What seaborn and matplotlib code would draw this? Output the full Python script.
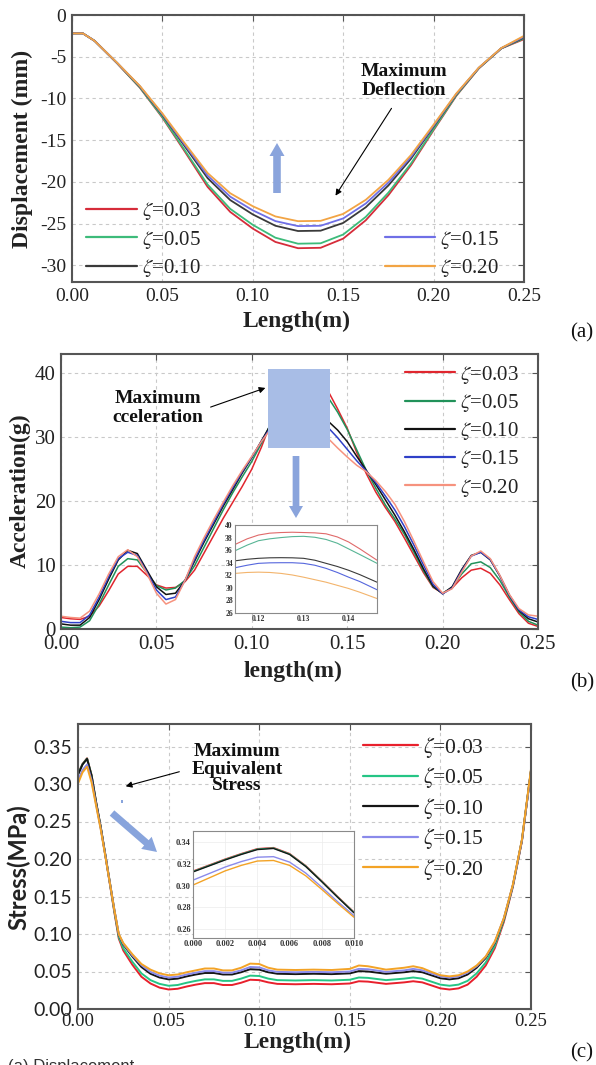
import numpy as np
import pandas as pd
import matplotlib
matplotlib.use("Agg")
import matplotlib.pyplot as plt
import seaborn as sns
from matplotlib.lines import Line2D
from matplotlib.patches import FancyArrow, Rectangle
from matplotlib.transforms import Affine2D

W, H = 596, 1065
zeta_labels = ["0.03", "0.05", "0.10", "0.15", "0.20"]

# ---------------- Panel (a): displacement ----------------
len_a = [0.0, 0.006, 0.0125, 0.025, 0.0375, 0.05, 0.0625, 0.075, 0.0875, 0.10, 0.1125,
         0.125, 0.1375, 0.15, 0.1625, 0.175, 0.1875, 0.20, 0.2125, 0.225, 0.2375, 0.25]
disp_003 = [-2.2, -2.2, -3.1, -5.8, -8.7, -12.3, -16.4, -20.6, -23.6, -25.6, -27.2,
            -27.95, -27.9, -26.8, -24.6, -21.6, -18.0, -13.8, -9.7, -6.4, -4.0, -2.9]
disp_005 = [-2.2, -2.2, -3.1, -5.79, -8.67, -12.22, -16.24, -20.32, -23.23, -25.15, -26.69,
            -27.41, -27.36, -26.31, -24.19, -21.29, -17.80, -13.69, -9.65, -6.39, -4.0, -2.8]
disp_010 = [-2.2, -2.2, -3.1, -5.76, -8.57, -11.98, -15.77, -19.55, -22.18, -23.90, -25.26,
            -25.89, -25.85, -24.92, -23.04, -20.43, -17.22, -13.38, -9.53, -6.35, -3.98, -2.7]
disp_015 = [-2.2, -2.2, -3.1, -5.75, -8.53, -11.89, -15.59, -19.25, -21.77, -23.41, -24.70,
            -25.30, -25.26, -24.38, -22.59, -20.09, -17.00, -13.26, -9.48, -6.33, -3.97, -2.6]
disp_020 = [-2.2, -2.2, -3.1, -5.74, -8.49, -11.80, -15.41, -18.94, -21.36, -22.92, -24.14,
            -24.71, -24.67, -23.84, -22.15, -19.76, -16.78, -13.14, -9.42, -6.31, -3.95, -2.5]

# ---------------- Panel (b): acceleration ----------------
len_b = [round(0.005 * i, 3) for i in range(51)]
acc_003 = [1.8, 1.6, 1.5, 2.0, 3.6, 6.0, 8.6, 9.8, 9.8, 8.4, 6.9, 6.4, 6.5, 7.4, 9.2, 11.9,
           14.6, 17.3, 19.8, 22.3, 25.0, 28.4, 32.3, 36.8, 38.4, 38.8, 38.8, 38.6, 37.2, 34.4,
           31.4, 27.6, 24.3, 21.4, 19.0, 16.8, 14.2, 11.5, 8.8, 6.5, 5.6, 6.4, 8.0, 9.2, 9.5,
           8.7, 6.9, 4.6, 2.4, 0.9, 0.4]
acc_005 = [0.3, 0.2, 0.3, 1.3, 3.9, 6.9, 9.8, 11.0, 10.8, 8.8, 6.8, 6.1, 6.4, 7.6, 9.9, 12.8,
           15.7, 18.6, 21.3, 23.8, 26.2, 29.0, 32.2, 35.8, 37.3, 37.9, 38.1, 37.7, 36.2, 33.9,
           31.2, 28.0, 24.8, 22.0, 19.4, 17.2, 14.8, 12.0, 9.1, 6.6, 5.6, 6.5, 8.6, 10.2, 10.5,
           9.6, 7.6, 5.0, 2.7, 1.2, 0.6]
acc_010 = [0.8, 0.6, 0.6, 1.8, 4.6, 7.8, 10.8, 12.3, 11.8, 9.2, 6.6, 5.4, 5.6, 7.6, 10.6, 13.6,
           16.4, 19.2, 21.8, 24.4, 26.8, 29.4, 32.0, 34.2, 34.6, 34.8, 34.6, 33.7, 32.5, 31.1,
           29.3, 27.0, 24.8, 22.6, 20.2, 17.8, 15.2, 12.4, 9.4, 6.7, 5.5, 6.6, 9.3, 11.5, 12.0,
           10.8, 8.3, 5.3, 2.9, 1.6, 1.1]
acc_015 = [1.2, 1.0, 1.0, 2.2, 5.0, 8.2, 11.0, 12.0, 11.5, 8.9, 6.1, 4.6, 5.0, 7.6, 10.9, 13.9,
           16.7, 19.5, 22.1, 24.6, 26.9, 29.3, 31.6, 33.1, 33.7, 34.0, 33.8, 32.9, 31.5, 29.9,
           28.1, 26.3, 24.7, 22.9, 20.8, 18.6, 16.0, 13.1, 10.0, 7.0, 5.5, 6.4, 9.1, 11.4, 12.0,
           10.9, 8.3, 5.3, 3.0, 1.9, 1.5]
acc_020 = [2.0, 1.8, 1.7, 2.8, 5.5, 8.6, 11.3, 12.4, 11.3, 8.7, 5.6, 3.9, 4.6, 7.6, 11.3, 14.3,
           17.1, 19.8, 22.4, 24.8, 27.0, 29.3, 31.3, 32.2, 32.4, 32.3, 31.7, 30.9, 29.8, 28.3,
           26.9, 25.6, 24.6, 23.2, 21.5, 19.5, 16.8, 13.7, 10.5, 7.4, 5.6, 6.3, 8.9, 11.4, 12.2,
           11.0, 8.4, 5.4, 3.2, 2.2, 2.0]

# inset of (b)
len_bi = [0.1148, 0.1175, 0.12, 0.1225, 0.125, 0.1275, 0.13, 0.1325, 0.135, 0.1375, 0.14, 0.1425, 0.1463]
acc_i_003 = [36.9, 37.8, 38.4, 38.7, 38.8, 38.85, 38.8, 38.75, 38.6, 38.1, 37.3, 36.2, 34.4]
acc_i_005 = [35.9, 36.8, 37.5, 37.8, 38.0, 38.15, 38.2, 38.05, 37.7, 37.1, 36.2, 35.3, 33.9]
acc_i_010 = [34.3, 34.55, 34.7, 34.78, 34.8, 34.78, 34.7, 34.4, 33.9, 33.4, 32.8, 32.1, 30.9]
acc_i_015 = [33.2, 33.6, 33.9, 33.98, 34.0, 34.0, 33.9, 33.6, 33.1, 32.45, 31.7, 31.0, 29.7]
acc_i_020 = [32.3, 32.45, 32.5, 32.45, 32.3, 32.05, 31.7, 31.3, 30.9, 30.4, 29.9, 29.3, 28.3]

# ---------------- Panel (c): stress ----------------
len_c = [0, 0.0025, 0.005, 0.0075, 0.01, 0.0125, 0.015, 0.0175, 0.02, 0.0225, 0.025, 0.03,
         0.035, 0.04, 0.045, 0.05, 0.055, 0.06, 0.065, 0.07, 0.075, 0.08, 0.085, 0.09, 0.095,
         0.10, 0.105, 0.11, 0.12, 0.13, 0.14, 0.15, 0.155, 0.16, 0.17, 0.18, 0.185, 0.19,
         0.195, 0.20, 0.205, 0.21, 0.215, 0.22, 0.225, 0.23, 0.235, 0.24, 0.245, 0.25]
str_003 = [0.3133, 0.3268, 0.3343, 0.3118, 0.2758, 0.2430, 0.2060, 0.1680, 0.1300, 0.0940,
           0.0780, 0.0590, 0.0430, 0.0340, 0.0285, 0.0260, 0.0270, 0.0300, 0.0325, 0.0345,
           0.0345, 0.0320, 0.0320, 0.0350, 0.0390, 0.0385, 0.0355, 0.0335, 0.0330, 0.0335,
           0.0330, 0.0340, 0.0370, 0.0365, 0.0335, 0.0355, 0.0370, 0.0355, 0.0315, 0.0275,
           0.0260, 0.0275, 0.0325, 0.0430, 0.0580, 0.0810, 0.1160, 0.1630, 0.2240, 0.3180]
str_005 = [0.3129, 0.3264, 0.3339, 0.3114, 0.2754, 0.2430, 0.2065, 0.1690, 0.1310, 0.0960,
           0.0810, 0.0630, 0.0475, 0.0385, 0.0335, 0.0310, 0.0320, 0.0350, 0.0375, 0.0395,
           0.0395, 0.0375, 0.0375, 0.0405, 0.0445, 0.0440, 0.0405, 0.0385, 0.0380, 0.0385,
           0.0380, 0.0390, 0.0420, 0.0415, 0.0385, 0.0405, 0.0420, 0.0405, 0.0365, 0.0325,
           0.0310, 0.0325, 0.0375, 0.0475, 0.0620, 0.0840, 0.1180, 0.1640, 0.2250, 0.3180]
str_010 = [0.3125, 0.3260, 0.3335, 0.3110, 0.2750, 0.2430, 0.2070, 0.1700, 0.1330, 0.0990,
           0.0860, 0.0700, 0.0560, 0.0470, 0.0420, 0.0395, 0.0405, 0.0435, 0.0460, 0.0480,
           0.0480, 0.0460, 0.0460, 0.0490, 0.0530, 0.0525, 0.0490, 0.0470, 0.0465, 0.0470,
           0.0465, 0.0475, 0.0505, 0.0500, 0.0470, 0.0490, 0.0505, 0.0490, 0.0450, 0.0410,
           0.0395, 0.0410, 0.0460, 0.0550, 0.0680, 0.0880, 0.1200, 0.1650, 0.2250, 0.3180]
str_015 = [0.3050, 0.3185, 0.3260, 0.3050, 0.2725, 0.2410, 0.2060, 0.1695, 0.1330, 0.0995,
           0.0870, 0.0715, 0.0585, 0.0495, 0.0445, 0.0420, 0.0430, 0.0460, 0.0485, 0.0505,
           0.0505, 0.0485, 0.0485, 0.0515, 0.0560, 0.0555, 0.0515, 0.0495, 0.0490, 0.0495,
           0.0490, 0.0500, 0.0535, 0.0530, 0.0495, 0.0515, 0.0535, 0.0515, 0.0475, 0.0435,
           0.0420, 0.0435, 0.0485, 0.0570, 0.0695, 0.0890, 0.1210, 0.1650, 0.2250, 0.3170]
str_020 = [0.3005, 0.3155, 0.3230, 0.3020, 0.2710, 0.2400, 0.2050, 0.1690, 0.1330, 0.1000,
           0.0880, 0.0730, 0.0600, 0.0525, 0.0475, 0.0450, 0.0460, 0.0490, 0.0515, 0.0540,
           0.0540, 0.0515, 0.0515, 0.0550, 0.0605, 0.0600, 0.0550, 0.0525, 0.0520, 0.0525,
           0.0520, 0.0535, 0.0580, 0.0570, 0.0525, 0.0550, 0.0570, 0.0545, 0.0495, 0.0450,
           0.0435, 0.0450, 0.0500, 0.0580, 0.0700, 0.0900, 0.1210, 0.1660, 0.2260, 0.3200]

# inset of (c)
len_ci = [0.0, 0.001, 0.002, 0.003, 0.004, 0.005, 0.006, 0.007, 0.008, 0.009, 0.010]
str_i_003 = [0.3133, 0.3188, 0.3243, 0.3293, 0.3338, 0.3348, 0.3293, 0.3183, 0.3043, 0.2898, 0.2758]
str_i_005 = [0.3129, 0.3184, 0.3239, 0.3289, 0.3334, 0.3344, 0.3289, 0.3179, 0.3039, 0.2894, 0.2754]
str_i_010 = [0.3125, 0.3180, 0.3235, 0.3285, 0.3330, 0.3340, 0.3285, 0.3175, 0.3035, 0.2890, 0.2750]
str_i_015 = [0.3050, 0.3110, 0.3170, 0.3220, 0.3260, 0.3265, 0.3215, 0.3115, 0.2985, 0.2850, 0.2725]
str_i_020 = [0.3005, 0.3070, 0.3135, 0.3185, 0.3225, 0.3230, 0.3185, 0.3090, 0.2965, 0.2835, 0.2710]

pal_a = dict(zip(zeta_labels, ["#d62c3a", "#3dbb7a", "#3a3a3a", "#6f6fe6", "#f2a444"]))
pal_b = dict(zip(zeta_labels, ["#e0262e", "#21925a", "#111111", "#2f40c8", "#f6927e"]))
pal_bi = dict(zip(zeta_labels, ["#e06a6a", "#58b595", "#3a3a3a", "#5566dd", "#f3b46c"]))
pal_c = dict(zip(zeta_labels, ["#e8202c", "#25c585", "#151515", "#8a8aea", "#f3a326"]))

sns.set_style("white")
plt.rcParams.update({
    "font.family": ["Liberation Serif", "DejaVu Serif"],
    "mathtext.fontset": "stix",
    "axes.unicode_minus": False,
})

fig = plt.figure(figsize=(W / 100, H / 100), dpi=100)
PX = Affine2D().scale(1.0 / W, -1.0 / H).translate(0, 1) + fig.transFigure


def rect(l, t, r, b):
    return [l / W, 1 - b / H, (r - l) / W, (b - t) / H]


def F(x, y):
    return (x / W, 1 - y / H)


def long_df(x, series):
    return pd.DataFrame({
        "x": np.tile(np.asarray(x, float), len(series)),
        "y": np.concatenate([np.asarray(s, float) for s in series]),
        "zeta": np.repeat(zeta_labels, len(x)),
    })


def draw(ax, x, series, pal, lw):
    sns.lineplot(data=long_df(x, series), x="x", y="y", hue="zeta", hue_order=zeta_labels,
                 palette=pal, estimator=None, sort=False, legend=False, lw=lw, ax=ax)
    for ln in ax.get_lines():
        ln.set_solid_joinstyle("round")
    ax.set_xlabel("")
    ax.set_ylabel("")


def style(ax, xt, yt, fmt_x, fmt_y, lab=14):
    for s in ax.spines.values():
        s.set_color("#555555")
        s.set_linewidth(1.5)
    ax.set_xticks(xt)
    ax.set_yticks(yt)
    ax.set_xticklabels([fmt_x.format(v) for v in xt])
    ax.set_yticklabels([fmt_y.format(v) for v in yt])
    ax.grid(True, color="#c9c9c9", lw=0.8, ls=(0, (3, 3)))
    ax.tick_params(direction="in", length=4, width=0.8, color="#555555", top=True, right=True,
                   labelsize=lab, labelcolor="#222222", pad=4)


def legend(ax, idx, anchor, pal, size, hl, ls):
    hs = [Line2D([], [], color=pal[zeta_labels[i]], lw=1.6) for i in idx]
    labs = [r"$\zeta$=" + zeta_labels[i] for i in idx]
    lg = ax.legend(hs, labs, loc="upper left", bbox_to_anchor=anchor, frameon=False,
                   borderpad=0, borderaxespad=0, handlelength=hl, handletextpad=0.25,
                   labelspacing=ls, prop={"family": "Liberation Serif", "size": size})
    for t in lg.get_texts():
        t.set_color("#222222")
    return lg


# ---------- (a) ----------
axa = fig.add_axes(rect(72, 15, 524, 282))
draw(axa, len_a, [disp_003, disp_005, disp_010, disp_015, disp_020], pal_a, 1.3)
axa.set_xlim(0, 0.25)
axa.set_ylim(-32, 0)
style(axa, [0, 0.05, 0.10, 0.15, 0.20, 0.25], [0, -5, -10, -15, -20, -25, -30], "{:.2f}", "{:g}")
lg1 = legend(axa, [0, 1, 2], (0.031, 0.306), pal_a, 15, 2.45, 0.3)
axa.add_artist(lg1)
legend(axa, [3, 4], (0.692, 0.200), pal_a, 15, 2.4, 0.3)

fig.text(*F(22, 149), "Displacement (mm)", rotation=90, ha="center", va="center",
         fontsize=17, fontweight="bold", color="#222222")
fig.text(*F(297, 321), "Length(m)", ha="center", va="center", fontsize=17,
         fontweight="bold", color="#222222")
fig.text(*F(582, 333), "(a)", ha="center", va="center", fontsize=15, color="#111111")
fig.text(*F(404, 81), "Maximum\nDeflection", ha="center", va="center", fontsize=14,
         fontweight="bold", linespacing=1.1, color="#111111")
axa.annotate("", xy=F(334, 198), xytext=F(393, 106), xycoords="figure fraction",
             textcoords="figure fraction",
             arrowprops=dict(arrowstyle="-|>", color="black", lw=0.8, mutation_scale=9))
fig.add_artist(FancyArrow(277, 193, 0, -50, width=7.6, head_width=15, head_length=13,
                          length_includes_head=True, color="#8aa4dc", lw=0, transform=PX))

# ---------- (b) ----------
axb = fig.add_axes(rect(61, 354, 538, 629))
draw(axb, len_b, [acc_003, acc_005, acc_010, acc_015, acc_020], pal_b, 1.1)
axb.set_xlim(0, 0.25)
axb.set_ylim(0, 43)
style(axb, [0, 0.05, 0.10, 0.15, 0.20, 0.25], [0, 10, 20, 30, 40], "{:.2f}", "{:g}", lab=15)
legend(axb, [0, 1, 2, 3, 4], (0.721, 0.965), pal_b, 15, 2.4, 0.3)

fig.text(*F(20, 491), "Acceleration(g)", rotation=90, ha="center", va="center",
         fontsize=17, fontweight="bold", color="#222222")
fig.text(*F(293, 671), "length(m)", ha="center", va="center", fontsize=17,
         fontweight="bold", color="#222222")
fig.text(*F(582, 683), "(b)", ha="center", va="center", fontsize=15, color="#111111")
fig.text(*F(158, 408), "Maximum\ncceleration", ha="center", va="center", fontsize=14,
         fontweight="bold", linespacing=1.1, color="#111111")
axb.annotate("", xy=F(268, 387), xytext=F(208, 408), xycoords="figure fraction",
             textcoords="figure fraction",
             arrowprops=dict(arrowstyle="-|>", color="black", lw=0.8, mutation_scale=9))
fig.add_artist(Rectangle((268, 369), 62, 79, color="#a8bde6", lw=0, transform=PX, zorder=5))
fig.add_artist(FancyArrow(296, 456, 0, 62, width=6.7, head_width=14, head_length=12,
                          length_includes_head=True, color="#8aa4dc", lw=0, transform=PX))

axbi = fig.add_axes(rect(235, 525, 377, 613), zorder=6)
axbi.set_facecolor("white")
draw(axbi, len_bi, [acc_i_003, acc_i_005, acc_i_010, acc_i_015, acc_i_020], pal_bi, 0.8)
axbi.set_xlim(0.1148, 0.1463)
axbi.set_ylim(26, 40)
axbi.set_xticks([0.12, 0.13, 0.14])
axbi.set_xticklabels(["0.12", "0.13", "0.14"])
axbi.set_yticks([26, 28, 30, 32, 34, 36, 38, 40])
axbi.set_yticklabels(["26", "28", "30", "32", "34", "36", "38", "40"])
axbi.tick_params(direction="in", length=2, width=0.5, labelsize=5.5, pad=1.5, colors="#333333")
for t in axbi.get_xticklabels() + axbi.get_yticklabels():
    t.set_fontweight("bold")
for s in axbi.spines.values():
    s.set_color("#8a8a8a")
    s.set_linewidth(0.8)

# ---------- (c) ----------
axc = fig.add_axes(rect(78, 724, 531, 1009))
draw(axc, len_c, [str_003, str_005, str_010, str_015, str_020], pal_c, 1.4)
axc.set_xlim(0, 0.25)
axc.set_ylim(0, 0.38)
style(axc, [0, 0.05, 0.10, 0.15, 0.20, 0.25],
      [0, 0.05, 0.10, 0.15, 0.20, 0.25, 0.30, 0.35], "{:.2f}", "{:.2f}", lab=13.5)
for t in axc.get_yticklabels():
    t.set_family("Lato")
    t.set_fontsize(14)
axc.tick_params(axis="x", pad=3)
legend(axc, [0, 1, 2, 3, 4], (0.629, 0.963), pal_c, 15.5, 2.55, 0.26)

fig.text(*F(19, 867), "Stress(MPa)", rotation=90, ha="center", va="center",
         fontsize=17, fontweight="bold", family="Lato", color="#222222")
fig.text(*F(298, 1042), "Length(m)", ha="center", va="center", fontsize=17,
         fontweight="bold", color="#222222")
fig.text(*F(582, 1053), "(c)", ha="center", va="center", fontsize=15, color="#111111")
fig.text(*F(237, 769), "Maximum\nEquivalent\nStress", ha="center", va="center", fontsize=14,
         fontweight="bold", linespacing=1.0, color="#111111")
axc.annotate("", xy=F(123, 787), xytext=F(182, 771), xycoords="figure fraction",
             textcoords="figure fraction",
             arrowprops=dict(arrowstyle="-|>", color="black", lw=0.8, mutation_scale=9))
fig.add_artist(FancyArrow(112, 813, 45, 39, width=7, head_width=16, head_length=14,
                          length_includes_head=True, color="#88a4dc", lw=0, transform=PX))
fig.add_artist(Rectangle((121, 800), 2, 3, color="#88a4dc", lw=0, transform=PX))

axci = fig.add_axes(rect(193, 831, 354, 938), zorder=6)
axci.set_facecolor("white")
draw(axci, len_ci, [str_i_003, str_i_005, str_i_010, str_i_015, str_i_020], pal_c, 1.0)
axci.set_xlim(0, 0.010)
axci.set_ylim(0.252, 0.35)
xt = [0, 0.002, 0.004, 0.006, 0.008, 0.010]
axci.set_xticks(xt)
axci.set_xticklabels(["{:.3f}".format(v) for v in xt])
yt = [0.26, 0.28, 0.30, 0.32, 0.34]
axci.set_yticks(yt)
axci.set_yticklabels(["{:.2f}".format(v) for v in yt])
axci.grid(True, color="#ececec", lw=0.5)
axci.tick_params(direction="in", length=2, width=0.5, labelsize=6, pad=1.5, colors="#333333")
for t in axci.get_xticklabels() + axci.get_yticklabels():
    t.set_fontweight("bold")
for s in axci.spines.values():
    s.set_color("#8a8a8a")
    s.set_linewidth(0.8)

fig.text(*F(8, 1059), "(a) Displacement", ha="left", va="top", fontsize=12,
         family="Liberation Sans", color="#333333")

fig.savefig("out.png", dpi=100)
